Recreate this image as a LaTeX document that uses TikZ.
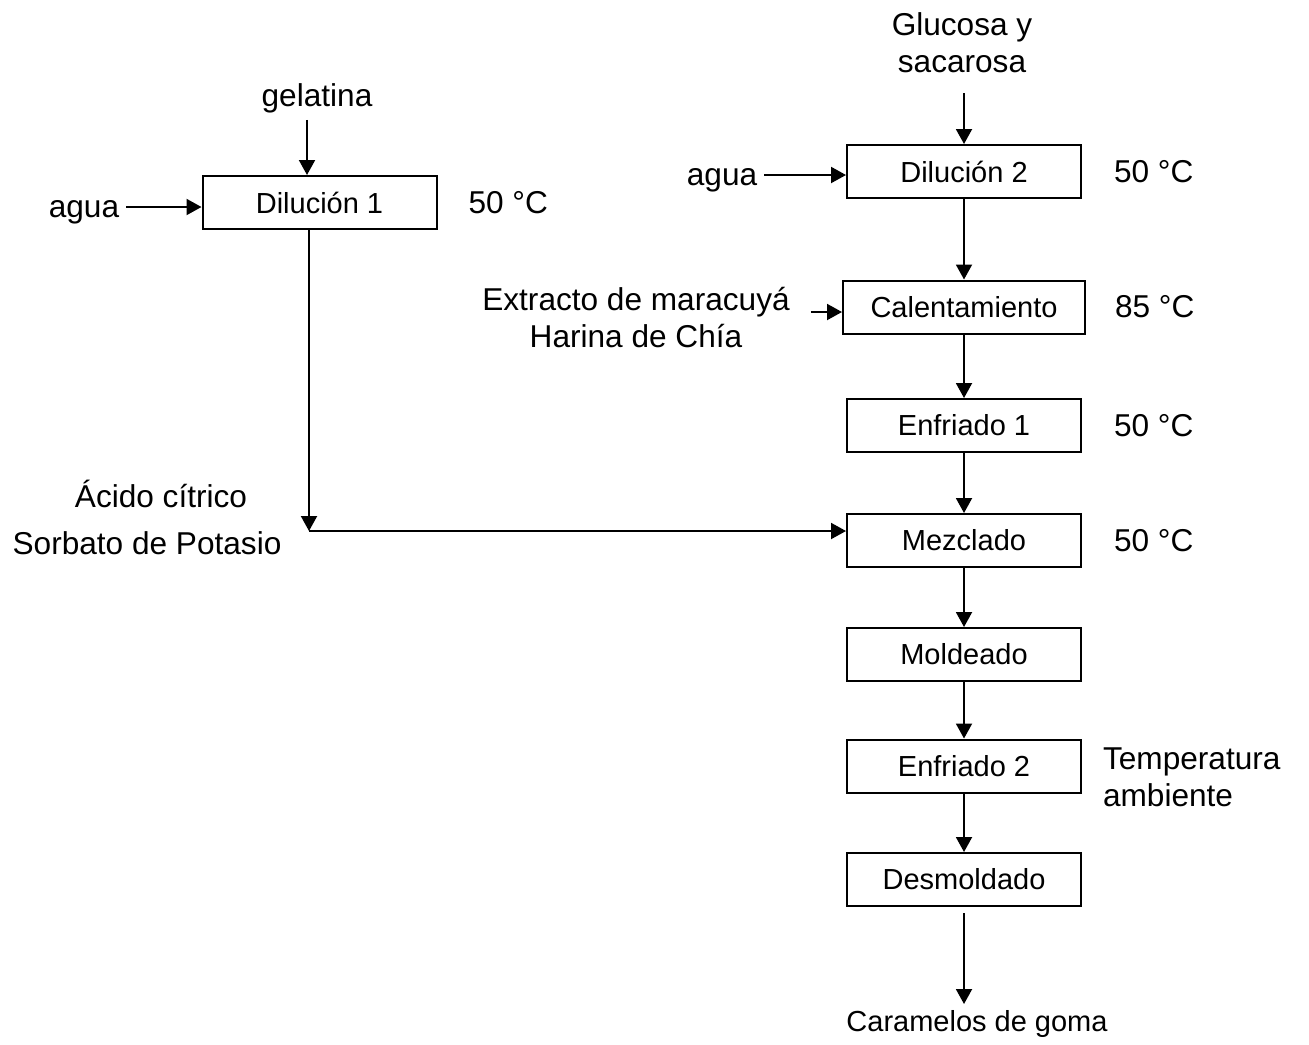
\documentclass[tikz,border=0pt]{standalone}
\usepackage{fontspec}
\setmainfont{Liberation Sans}
\usepackage{tikz}
\usetikzlibrary{arrows.meta,positioning,calc}
\tikzset{
  proc/.style={rectangle, draw, line width=1pt, minimum width=117pt, minimum height=26.5pt, font=\fontsize{14.5}{17}\selectfont},
  etiq/.style={align=center, font=\fontsize{15.8}{18.5}\selectfont},
  flecha/.style={-{Triangle[length=7.5pt,width=8pt]}, line width=1pt}
}
\begin{document}
\begin{tikzpicture}[x=0.5pt,y=-0.5pt]
\useasboundingbox (0,0) rectangle (1309,1044);
% rama de la gelatina
\node[proc] (dil1) at (319.5,202.5) {Dilución 1};
\node[etiq] (gel) at (317,98) {gelatina};
\node[etiq] (agua1) at (84,212) {agua};
\node[etiq, right=12pt of dil1] (t1) {50 °C};
\node[etiq] (acido) at (161,494) {Ácido cítrico};
\node[etiq] (sorb) at (147,543) {Sorbato de Potasio};
% linea principal
\node[proc] (dil2) at (964,171.5) {Dilución 2};
\node[proc, minimum width=121pt, below=40.25pt of dil2] (calen) {Calentamiento};
\node[proc, below=31.75pt of calen] (enf1) {Enfriado 1};
\node[proc, below=30pt of enf1] (mez) {Mezclado};
\node[proc, below=29.5pt of mez] (mol) {Moldeado};
\node[proc, below=28.25pt of mol] (enf2) {Enfriado 2};
\node[proc, below=29.25pt of enf2] (desm) {Desmoldado};
\node[etiq] (gluc) at (962,43) {Glucosa y\\sacarosa};
\node[etiq] (agua2) at (722,180) {agua};
\node[etiq] (ext) at (636,318) {Extracto de maracuyá\\Harina de Chía};
\node[proc, draw=none] (caram) at (977,1024) {Caramelos de goma};
\node[etiq, right=12.5pt of dil2] (t2) {50 °C};
\node[etiq, right=11pt of calen] (t3) {85 °C};
\node[etiq, right=12.5pt of enf1] (t4) {50 °C};
\node[etiq, right=12.5pt of mez] (t5) {50 °C};
\node[etiq, align=left, right=7pt of enf2, yshift=-5.5pt] (t6) {Temperatura\\ambiente};
% conectores
\coordinate (codo) at (309,531);
\draw[flecha] ([xshift=-5pt]gel.south) -- ([xshift=-5pt]gel.south |- dil1.north);
\draw[flecha] (agua1.east |- 0,207) -- (dil1.west |- 0,207);
\draw[flecha] (codo |- dil1.south) -- (codo);
\draw[flecha] (codo) -- (codo -| mez.west);
\draw[flecha] (dil2.north |- 0,93) -- (dil2.north);
\draw[flecha] (agua2.east |- 0,175) -- (dil2.west |- 0,175);
\draw[flecha] ([xshift=7pt]ext.east |- 0,312) -- (calen.west |- 0,312);
\draw[flecha] (dil2) -- (calen);
\draw[flecha] (calen) -- (enf1);
\draw[flecha] (enf1) -- (mez);
\draw[flecha] (mez) -- (mol);
\draw[flecha] (mol) -- (enf2);
\draw[flecha] (enf2) -- (desm);
\draw[flecha] ([yshift=-3pt]desm.south) -- (desm.south |- 0,1004);
\end{tikzpicture}
\end{document}
